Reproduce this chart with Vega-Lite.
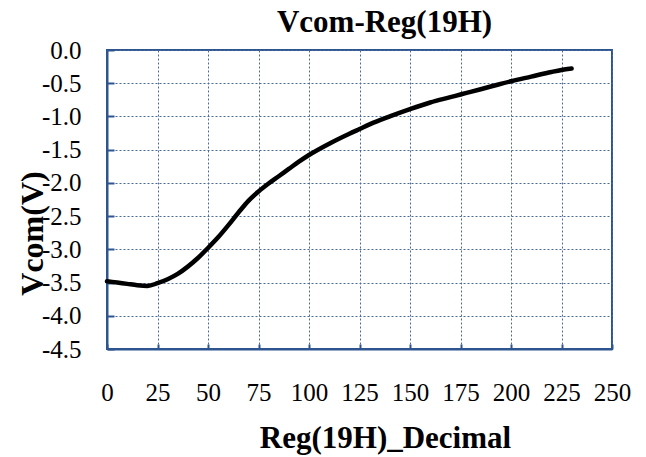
{
  "$schema": "https://vega.github.io/schema/vega-lite/v6.json",
  "width": 505,
  "height": 299,
  "autosize": "none",
  "padding": {"left": 107, "top": 50, "right": 34, "bottom": 108},
  "background": "white",
  "title": {
    "text": "Vcom-Reg(19H)",
    "font": "Liberation Serif",
    "fontSize": 31,
    "fontWeight": "bold",
    "color": "black",
    "anchor": "middle",
    "dx": 25,
    "dy": 42,
    "baseline": "alphabetic",
    "offset": 17
  },
  "config": {
    "view": {"stroke": "#2e5590", "strokeWidth": 2},
    "axis": {
      "labelFont": "Liberation Serif",
      "labelFontSize": 25,
      "labelColor": "black",
      "titleFont": "Liberation Serif",
      "titleFontWeight": "bold",
      "titleColor": "black",
      "domainColor": "#2e5590",
      "domainWidth": 2,
      "tickColor": "#2e5590",
      "tickWidth": 2,
      "gridColor": "#4a6a9c",
      "gridDash": [2, 2],
      "gridWidth": 1,
      "gridOpacity": 1
    }
  },
  "data": {
    "values": [
      {"reg": 0, "vcom": -3.48},
      {"reg": 5, "vcom": -3.5},
      {"reg": 10, "vcom": -3.52},
      {"reg": 15, "vcom": -3.54},
      {"reg": 20, "vcom": -3.55},
      {"reg": 25, "vcom": -3.51},
      {"reg": 30, "vcom": -3.45},
      {"reg": 35, "vcom": -3.37},
      {"reg": 40, "vcom": -3.26},
      {"reg": 45, "vcom": -3.13},
      {"reg": 50, "vcom": -2.98},
      {"reg": 55, "vcom": -2.82},
      {"reg": 60, "vcom": -2.64},
      {"reg": 65, "vcom": -2.45},
      {"reg": 70, "vcom": -2.27},
      {"reg": 75, "vcom": -2.13},
      {"reg": 80, "vcom": -2.01},
      {"reg": 85, "vcom": -1.9},
      {"reg": 90, "vcom": -1.79},
      {"reg": 95, "vcom": -1.68},
      {"reg": 100, "vcom": -1.58},
      {"reg": 110, "vcom": -1.41},
      {"reg": 120, "vcom": -1.26},
      {"reg": 125, "vcom": -1.19},
      {"reg": 130, "vcom": -1.12},
      {"reg": 140, "vcom": -1.0},
      {"reg": 150, "vcom": -0.89},
      {"reg": 160, "vcom": -0.79},
      {"reg": 170, "vcom": -0.71},
      {"reg": 175, "vcom": -0.67},
      {"reg": 180, "vcom": -0.63},
      {"reg": 190, "vcom": -0.55},
      {"reg": 200, "vcom": -0.47},
      {"reg": 210, "vcom": -0.4},
      {"reg": 220, "vcom": -0.33},
      {"reg": 225, "vcom": -0.3},
      {"reg": 230, "vcom": -0.28}
    ]
  },
  "mark": {"type": "line", "color": "black", "strokeWidth": 4.5, "interpolate": "monotone", "strokeCap": "round"},
  "encoding": {
    "x": {
      "field": "reg",
      "type": "quantitative",
      "scale": {"domain": [0, 250], "nice": false},
      "axis": {
        "values": [0, 25, 50, 75, 100, 125, 150, 175, 200, 225, 250],
        "title": "Reg(19H)_Decimal",
        "titleFontSize": 31,
        "tickSize": -5,
        "labelPadding": 56,
        "labelBaseline": "alphabetic",
        "labelFlush": false,
        "titleX": 278,
        "titleY": 98,
        "titleBaseline": "alphabetic",
        "titleAnchor": null
      }
    },
    "y": {
      "field": "vcom",
      "type": "quantitative",
      "scale": {"domain": [-4.5, 0], "nice": false, "zero": false},
      "axis": {
        "values": [0, -0.5, -1, -1.5, -2, -2.5, -3, -3.5, -4, -4.5],
        "format": ".1f",
        "labelExpr": "replace(datum.label, '\u2212', '-')",
        "title": "Vcom(V)",
        "titleFontSize": 32,
        "tickSize": -7,
        "labelPadding": 33,
        "labelFlush": false,
        "titleX": -65,
        "titleY": 183,
        "titleAngle": -90,
        "titleAlign": "center",
        "titleBaseline": "alphabetic"
      }
    }
  }
}
